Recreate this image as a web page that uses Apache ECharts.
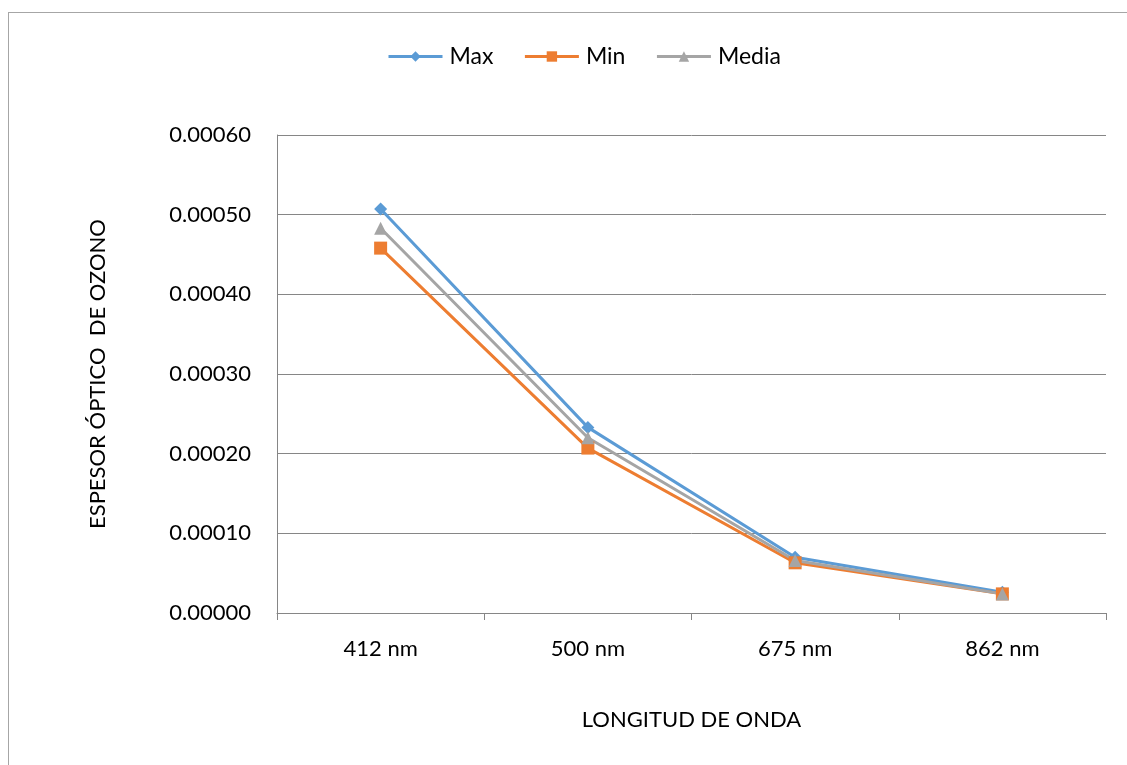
<!DOCTYPE html>
<html>
<head>
    <meta charset="utf-8">
    <title>Espesor óptico de ozono</title>
    <style>
        body { margin: 0; background: #fff; }
        #frame {
            position: absolute; left: 8px; top: 12px;
            width: 1130px; height: 760px;
            border-left: 1px solid #a6a6a6; border-top: 1px solid #a6a6a6;
        }
        #chart { position: absolute; left: 0; top: 0; width: 1127px; height: 765px; }
    </style>
</head>
<body>
    <div id="frame"></div>
    <div id="chart"></div>
    <script src="https://cdn.jsdelivr.net/npm/echarts@6/dist/echarts.min.js"></script>
    <script>
        // datos
        var categorias = ['412 nm', '500 nm', '675 nm', '862 nm'];
        var maxVals = [0.000507, 0.000233, 0.000070, 0.000026];
        var minVals = [0.000458, 0.000207, 0.000063, 0.000024];
        var mediaVals = [0.000483, 0.000220, 0.000066, 0.000024];

        var myChart = echarts.init(document.getElementById('chart'));
        var fuente = 'Lato, "Open Sans", sans-serif';

        function serie(nombre, datos, color, simbolo, tam) {
            return {
                name: nombre,
                type: 'line',
                data: datos,
                symbol: simbolo,
                symbolSize: tam,
                lineStyle: { color: color, width: 3 },
                itemStyle: { color: color },
                emphasis: { disabled: true }
            };
        }

        var option = {
            animation: false,
            textStyle: { fontFamily: fuente },
            legend: {
                top: 40,
                left: 382,
                itemGap: 30,
                itemWidth: 54,
                itemHeight: 13,
                lineStyle: { width: 3 },
                textStyle: { fontSize: 23, color: '#000', fontFamily: fuente, padding: [0, 0, 0, 2] },
                data: ['Max', 'Min', 'Media']
            },
            grid: { left: 277, right: 21, top: 135, bottom: 152 },
            xAxis: {
                type: 'category',
                data: categorias,
                boundaryGap: true,
                name: 'LONGITUD DE ONDA',
                nameLocation: 'middle',
                nameGap: 96,
                nameTextStyle: { fontSize: 22, color: '#000', fontFamily: fuente },
                axisLine: { lineStyle: { color: '#868686', width: 1 } },
                axisTick: { show: true, length: 7, lineStyle: { color: '#868686' } },
                axisLabel: { fontSize: 22, color: '#000', margin: 25, fontFamily: fuente }
            },
            yAxis: {
                type: 'value',
                min: 0,
                max: 0.0006,
                interval: 0.0001,
                name: 'ESPESOR ÓPTICO  DE OZONO',
                nameLocation: 'middle',
                nameGap: 168,
                nameTextStyle: { fontSize: 22, color: '#000', fontFamily: fuente },
                axisLine: { show: true, lineStyle: { color: '#868686', width: 1 } },
                axisTick: { show: false },
                splitLine: { lineStyle: { color: '#868686', width: 1 } },
                axisLabel: {
                    fontSize: 22, color: '#000', margin: 26, fontFamily: fuente,
                    formatter: function (v) { return v.toFixed(5); }
                }
            },
            series: [
                serie('Max', maxVals, '#5B9BD5', 'diamond', 13),
                serie('Min', minVals, '#ED7D31', 'rect', 13),
                serie('Media', mediaVals, '#A5A5A5', 'triangle', 13)
            ]
        };

        myChart.setOption(option);
    </script>
</body>
</html>
